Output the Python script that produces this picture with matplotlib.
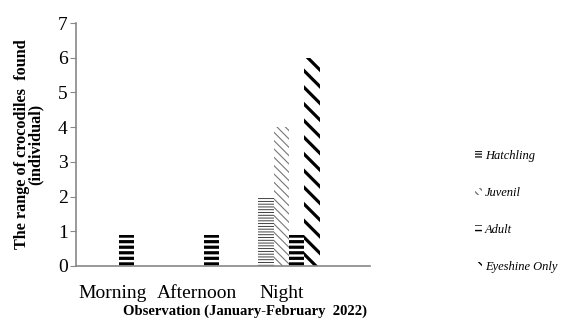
import numpy as np
import matplotlib
matplotlib.use("Agg")
import matplotlib.pyplot as plt

plt.rcParams["font.family"] = ["Liberation Serif", "DejaVu Serif"]

# Data
categories = ["Morning", "Afternoon", "Night"]
series = ["Hatchling", "Juvenil", "Adult", "Eyeshine Only"]
hatchling = [0, 0, 2]
juvenil = [0, 0, 4]
adult = [0.9, 0.9, 0.9]
eyeshine = [0, 0, 6]

values = [hatchling, juvenil, adult, eyeshine]
hatches = ["------", "\\\\\\\\", "---", "\\\\"]
colors = ["#222222", "#777777", "black", "black"]
hatch_lw = [0.6, 0.8, 2.3, 2.3]

fig = plt.figure(figsize=(5.63, 3.30), dpi=100)
ax = fig.add_axes([0.135, 0.194, 0.522, 0.736])

x = np.arange(len(categories))
w = 0.18
for i, (vals, name) in enumerate(zip(values, series)):
    bars = ax.bar(x + (i - 1.5) * w, vals, w, color="white", edgecolor=colors[i],
                  linewidth=0, hatch=hatches[i], label=name)
    for b in bars:
        if hasattr(b, "set_hatch_linewidth"):
            b.set_hatch_linewidth(hatch_lw[i])

ax.set_xlim(-0.506, 2.953)
ax.set_ylim(0, 7)
ax.set_yticks(range(8))
ax.set_xticks(x - 0.08)
ax.set_xticklabels(categories)
ax.tick_params(axis="x", length=0, pad=14, labelsize=14)
ax.tick_params(axis="y", length=4, color="#888888", labelsize=14, pad=2)

for s in ["top", "right"]:
    ax.spines[s].set_visible(False)
for s in ["left", "bottom"]:
    ax.spines[s].set_color("#888888")
    ax.spines[s].set_linewidth(1.2)

ax.set_ylabel("The range of crocodiles  found\n(individual)", fontsize=11.7,
              fontweight="bold", linespacing=0.8, labelpad=10)
fig.text(0.435, 0.058, "Observation (January-February  2022)", fontsize=10.5,
         fontweight="bold", ha="center", va="center")

leg = ax.legend(loc="center left", bbox_to_anchor=(1.32, 0.225), frameon=False,
                prop={"style": "italic", "size": 9}, handlelength=0.55,
                handleheight=0.55, handletextpad=0.25, labelspacing=2.0)

fig.savefig("out.png", dpi=100)
